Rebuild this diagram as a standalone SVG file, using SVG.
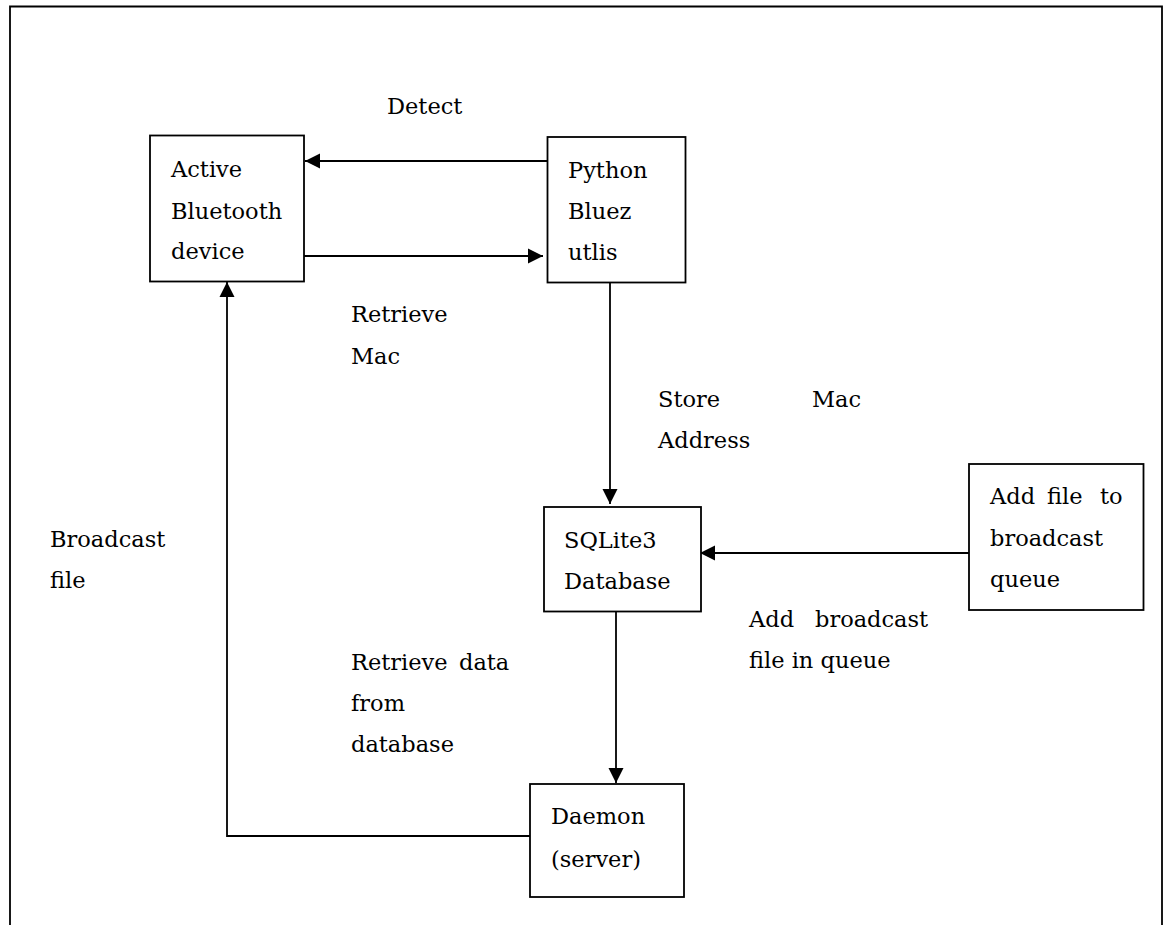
<svg xmlns="http://www.w3.org/2000/svg" width="1164" height="925" viewBox="0 0 1164 925">
  <style>
    .box { fill: #fff; stroke: #000; stroke-width: 1.8; }
    .wire { fill: none; stroke: #000; stroke-width: 1.8; }
    .t { font-family: "DejaVu Serif", "Liberation Serif", serif; font-size: 22.5px; fill: #000; }
  </style>
  <defs>
    <marker id="arrow" markerUnits="userSpaceOnUse" markerWidth="16" markerHeight="16" viewBox="0 0 16 16" refX="15" refY="8" orient="auto">
      <path d="M0,0.5 L15,8 L0,15.5 Z" fill="#000"/>
    </marker>
  </defs>

  <rect width="1164" height="925" fill="#fff"/>
  <!-- outer frame, open at the bottom -->
  <path class="wire" d="M10,925 V6.5 H1162 V925"/>

  <g id="connectors">
    <line class="wire" x1="547" y1="161" x2="305" y2="161" marker-end="url(#arrow)"/>
    <line class="wire" x1="302" y1="256" x2="543" y2="256" marker-end="url(#arrow)"/>
    <line class="wire" x1="610" y1="282" x2="610" y2="504" marker-end="url(#arrow)"/>
    <line class="wire" x1="969" y1="553" x2="700" y2="553" marker-end="url(#arrow)"/>
    <line class="wire" x1="616" y1="611" x2="616" y2="783" marker-end="url(#arrow)"/>
    <polyline class="wire" points="530,836 227,836 227,282" marker-end="url(#arrow)"/>
  </g>

  <g id="labels" class="t">
    <text x="387" y="114">Detect</text>
    <text x="351" y="322">Retrieve</text>
    <text x="351" y="364">Mac</text>
    <text y="407"><tspan x="658">Store</tspan><tspan x="812">Mac</tspan></text>
    <text x="658" y="448">Address</text>
    <text x="50" y="547">Broadcast</text>
    <text x="50" y="588">file</text>
    <text y="627"><tspan x="749">Add</tspan><tspan x="815">broadcast</tspan></text>
    <text x="749" y="668">file in queue</text>
    <text y="670"><tspan x="351">Retrieve</tspan><tspan x="459">data</tspan></text>
    <text x="351" y="711">from</text>
    <text x="351" y="752">database</text>
  </g>

  <g id="active-bluetooth" class="t">
    <rect class="box" x="150" y="135.5" width="154" height="146"/>
    <text x="171" y="177">Active</text>
    <text x="171" y="219">Bluetooth</text>
    <text x="171" y="259">device</text>
  </g>

  <g id="python-bluez" class="t">
    <rect class="box" x="547.5" y="137" width="138" height="145.5"/>
    <text x="568" y="178">Python</text>
    <text x="568" y="219">Bluez</text>
    <text x="568" y="260">utlis</text>
  </g>

  <g id="sqlite-db" class="t">
    <rect class="box" x="544" y="507" width="157" height="104.5"/>
    <text x="564" y="548">SQLite3</text>
    <text x="564" y="589">Database</text>
  </g>

  <g id="add-file" class="t">
    <rect class="box" x="969" y="464" width="174.5" height="146"/>
    <text y="504"><tspan x="990">Add</tspan><tspan x="1047">file</tspan><tspan x="1100">to</tspan></text>
    <text x="990" y="546">broadcast</text>
    <text x="990" y="587">queue</text>
  </g>

  <g id="daemon" class="t">
    <rect class="box" x="530" y="784" width="154" height="113"/>
    <text x="551" y="824">Daemon</text>
    <text x="551" y="867">(server)</text>
  </g>
</svg>
